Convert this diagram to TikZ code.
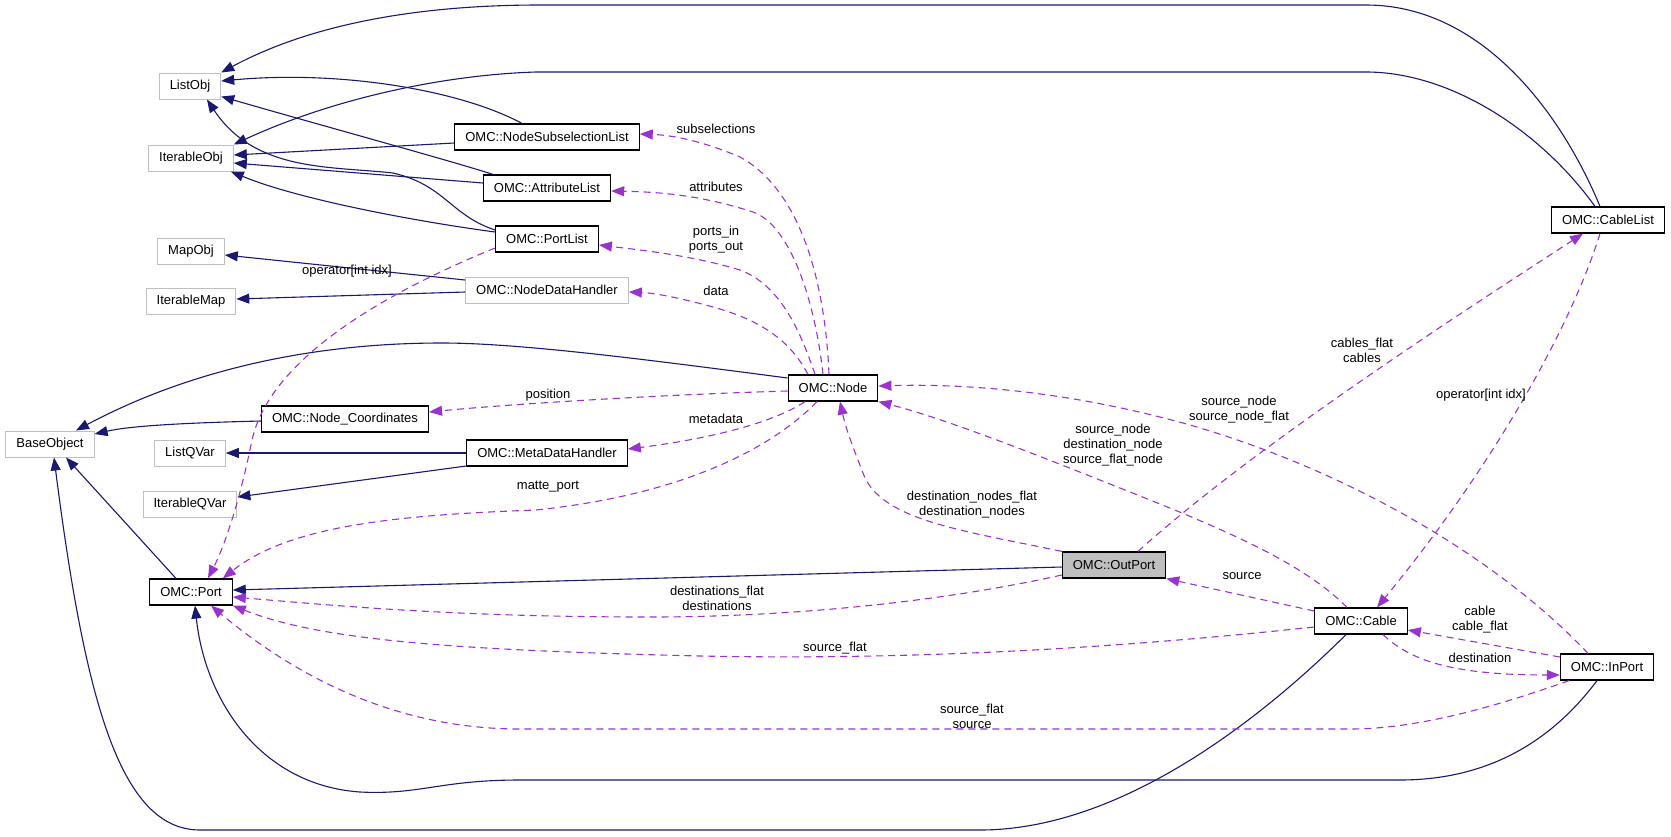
\documentclass[tikz,border=0pt]{standalone}
\usepackage{fontspec}
\setmainfont{Liberation Sans}
\usepackage{tikz}
\usetikzlibrary{arrows.meta}
\definecolor{navy}{HTML}{191970}
\definecolor{orchid}{HTML}{9A32CD}
\definecolor{boxgrey}{HTML}{BFBFBF}
\tikzstyle{cls} = [draw=black, line width=1.2pt, minimum height=26pt, inner xsep=10.5pt, inner ysep=0pt]
\tikzstyle{ext} = [cls, draw=boxgrey, line width=1pt]
\tikzstyle{inh} = [draw, navy, line width=1.1pt, -{Triangle[length=13pt,width=10pt]}]
\tikzstyle{use} = [draw, orchid, line width=1.1pt, dash pattern=on 7pt off 5pt, -{Triangle[length=13pt,width=10pt]}]
\tikzstyle{lbl} = [inner sep=0pt, align=center, text=black]

\begin{document}
\begin{tikzpicture}[x=1pt, y=-1pt, font=\fontsize{13}{15}\selectfont]

	\useasboundingbox (0,0) rectangle (1671,836);

	% classes
	\node[ext] (listobj) at (190,86) {ListObj};
	\node[ext] (iterobj) at (191,158) {IterableObj};
	\node[ext] (mapobj) at (191,251) {MapObj};
	\node[ext] (itermap) at (191,301) {IterableMap};
	\node[ext] (baseobj) at (50,444) {BaseObject};
	\node[ext] (listqvar) at (190,453) {ListQVar};
	\node[ext] (iterqvar) at (190,504) {IterableQVar};
	\node[cls] (port) at (191,592) {OMC::Port};
	\node[cls] (nsl) at (547,137) {OMC::NodeSubselectionList};
	\node[cls] (attrlist) at (547,188) {OMC::AttributeList};
	\node[cls] (portlist) at (547,239) {OMC::PortList};
	\node[ext] (ndh) at (547,290) {OMC::NodeDataHandler};
	\node[cls] (nodecoord) at (345,419) {OMC::Node\_Coordinates};
	\node[cls] (mdh) at (547,453) {OMC::MetaDataHandler};
	\node[cls] (node) at (833,388) {OMC::Node};
	\node[cls, fill=boxgrey] (outport) at (1114,565) {OMC::OutPort};
	\node[cls] (cable) at (1361,621) {OMC::Cable};
	\node[cls] (inport) at (1607,667) {OMC::InPort};
	\node[cls] (cablelist) at (1608,220) {OMC::CableList};

	% inheritance
	\draw[inh] ([xshift=-8pt]cablelist.north) .. controls (1560,110) and (1480,5) .. (1366,5) -- (540,5)
		.. controls (400,5) and (300,30) .. (listobj.north east);
	\draw[inh] ([xshift=-13pt]cablelist.north) .. controls (1540,130) and (1450,72) .. (1366,72) -- (536,72)
		.. controls (440,75) and (330,100) .. (iterobj.north east);
	\draw[inh] ([xshift=-25pt]nsl.north) .. controls (460,90) and (340,70) .. ([yshift=5pt]listobj.east);
	\draw[inh] ([yshift=-6pt]nsl.west) -- ([yshift=3pt]iterobj.east);
	\draw[inh] ([xshift=-54pt]attrlist.north) .. controls (455,162) and (320,125) .. ([yshift=3pt]listobj.south east);
	\draw[inh] ([yshift=5pt]attrlist.west) -- ([yshift=-5pt]iterobj.east);
	\draw[inh] ([yshift=9pt]portlist.west) .. controls (450,215) and (445,185) .. (393,173)
		.. controls (330,166) and (255,172) .. ([xshift=17pt]listobj.south);
	\draw[inh] ([yshift=7pt]portlist.west) .. controls (420,222) and (300,200) .. ([xshift=-3pt]iterobj.south east);
	\draw[inh] ([yshift=10pt]ndh.west) -- ([yshift=-4pt]mapobj.east);
	\draw[inh] ([yshift=-2pt]ndh.west) -- ([yshift=2pt]itermap.east);
	\draw[inh] ([yshift=10pt]node.west) .. controls (650,360) and (520,343) .. (442,343)
		.. controls (300,343) and (180,375) .. ([xshift=26pt]baseobj.north);
	\draw[inh] ([yshift=-2pt]nodecoord.west) .. controls (180,423) and (130,426) .. ([yshift=10pt]baseobj.east);
	\draw[inh] (mdh.west) -- (listqvar.east);
	\draw[inh] ([yshift=-13pt]mdh.west) -- ([yshift=7pt]iterqvar.east);
	\draw[inh] ([xshift=-15pt]port.north) -- ([xshift=16pt]baseobj.south);
	\draw[inh] ([yshift=-2pt]outport.west) -- ([yshift=2pt]port.east);
	\draw[inh] ([xshift=-10pt]inport.south) .. controls (1560,730) and (1500,780) .. (1400,780) -- (520,780)
		.. controls (440,780) and (420,795) .. (360,792) .. controls (260,785) and (205,700) .. ([xshift=4pt]port.south);
	\draw[inh] ([xshift=-15pt]cable.south) .. controls (1260,720) and (1120,830) .. (980,830) -- (200,830)
		.. controls (120,830) and (85,700) .. ([xshift=4pt]baseobj.south);

	% usage
	\draw[use] ([xshift=-4pt]node.north) .. controls (825,280) and (800,190) .. (740,157)
		.. controls (700,140) and (670,135) .. ([yshift=3pt]nsl.east);
	\draw[use] ([xshift=-10pt]node.north) .. controls (815,300) and (790,225) .. (753,212)
		.. controls (700,195) and (660,192) .. ([yshift=-3pt]attrlist.east);
	\draw[use] ([xshift=-18pt]node.north) .. controls (800,330) and (780,285) .. (740,270)
		.. controls (690,255) and (640,250) .. ([yshift=-6pt]portlist.east);
	\draw[use] ([xshift=-25pt]node.north) .. controls (790,340) and (760,320) .. (713,307)
		.. controls (680,298) and (655,293) .. ([yshift=-2pt]ndh.east);
	\draw[use] ([yshift=-3pt]node.west) .. controls (650,395) and (500,405) .. ([yshift=7pt]nodecoord.east);
	\draw[use] ([xshift=-28pt]node.south) .. controls (770,425) and (700,440) .. ([yshift=4pt]mdh.east);
	\draw[use] ([xshift=-16pt]node.south) .. controls (770,450) and (680,495) .. (536,510)
		.. controls (400,515) and (290,525) .. ([xshift=-10pt]port.north east);
	\draw[use] ([yshift=-9pt]portlist.west) .. controls (380,295) and (270,360) .. (252,440)
		.. controls (240,500) and (225,545) .. ([xshift=17pt]port.north);
	\draw[use] (outport.north west) .. controls (960,530) and (880,520) .. (863,473)
		.. controls (850,440) and (845,425) .. ([xshift=7pt]node.south);
	\draw[use] ([yshift=-10pt]outport.west) .. controls (950,600) and (800,617) .. (650,617)
		.. controls (450,617) and (330,605) .. ([yshift=-5pt]port.east);
	\draw[use] ([yshift=10pt]cable.west) -- (outport.south east);
	\draw[use] ([xshift=-14pt]cable.north) .. controls (1310,570) and (1250,540) .. (1150,500)
		.. controls (1050,460) and (950,420) .. (node.south east);
	\draw[use] ([yshift=-6pt]cable.west) .. controls (1100,650) and (900,660) .. (700,656)
		.. controls (450,650) and (320,640) .. (port.south east);
	\draw[use] ([xshift=24pt]outport.north) .. controls (1250,450) and (1450,320) .. ([xshift=-25pt]cablelist.south);
	\draw[use] ([xshift=-8pt]cablelist.south) .. controls (1570,330) and (1490,470) .. ([xshift=16pt]cable.north);
	\draw[use] ([xshift=-19pt]inport.north) .. controls (1500,560) and (1350,470) .. (1183,423)
		.. controls (1080,395) and (980,383) .. ([yshift=2pt]node.east);
	\draw[use] ([yshift=10pt]inport.west) -- ([yshift=-9pt]cable.east);
	\draw[use] ([xshift=22pt]cable.south) .. controls (1410,660) and (1450,675) .. ([yshift=-8pt]inport.west);
	\draw[use] ([xshift=-38pt]inport.south) .. controls (1500,705) and (1420,729) .. (1350,729) -- (520,729)
		.. controls (400,729) and (300,680) .. ([xshift=20pt]port.south);

	% labels
	\node[lbl] (l-subsel) at (716,129) {subselections};
	\node[lbl] (l-attr) at (716,187) {attributes};
	\node[lbl] (l-ports) at (716,240) {ports\_in\\ports\_out};
	\node[lbl] (l-data) at (716,291) {data};
	\node[lbl] (l-pos) at (548,395) {position};
	\node[lbl] (l-meta) at (716,419) {metadata};
	\node[lbl] (l-matte) at (548,487) {matte\_port};
	\node[lbl] (l-opport) at (347,271) {operator[int idx]};
	\node[lbl] (l-destnodes) at (972,505) {destination\_nodes\_flat\\destination\_nodes};
	\node[lbl] (l-cabnodes) at (1113,445) {source\_node\\destination\_node\\source\_flat\_node};
	\node[lbl] (l-innodes) at (1239,410) {source\_node\\source\_node\_flat};
	\node[lbl] (l-cables) at (1362,350) {cables\_flat\\cables};
	\node[lbl] (l-opcable) at (1481,395) {operator[int idx]};
	\node[lbl] (l-dests) at (717,598) {destinations\_flat\\destinations};
	\node[lbl] (l-source) at (1242,576) {source};
	\node[lbl] (l-srcflat) at (835,648) {source\_flat};
	\node[lbl] (l-cable) at (1480,620) {cable\\cable\_flat};
	\node[lbl] (l-dest) at (1480,658) {destination};
	\node[lbl] (l-insrc) at (972,716) {source\_flat\\source};

\end{tikzpicture}
\end{document}
